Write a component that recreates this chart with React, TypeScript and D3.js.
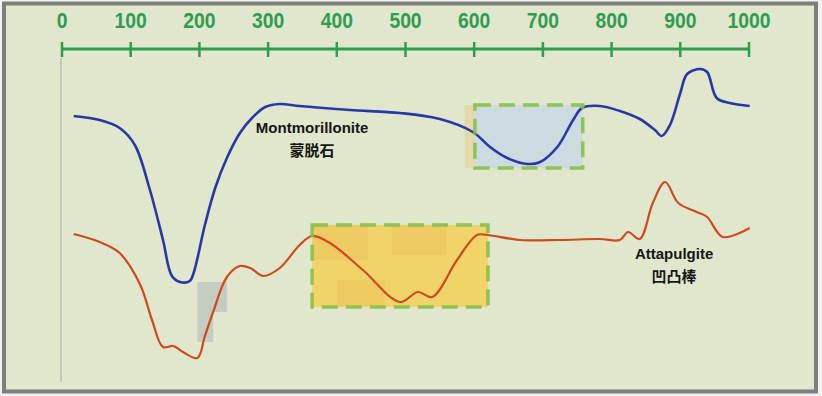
import React, { useEffect, useRef } from "react";
import * as d3 from "d3";

// wavelength axis, 0..1000
const xTicks = [0, 100, 200, 300, 400, 500, 600, 700, 800, 900, 1000];

// Montmorillonite curve [wavelength, signal]
const montmorillonite: [number, number][] = [
  [17, 264], [55, 260], [84, 252], [106, 235], [128, 190], [147, 140],
  [160, 104], [172, 98], [186, 99], [192, 108], [208, 155], [223, 192],
  [240, 222], [259, 247], [278, 263], [296, 273], [317, 276], [346, 274],
  [419, 270], [492, 267], [550, 261], [598, 248], [623, 233], [648, 222],
  [678, 216], [696, 218], [721, 233], [744, 260], [757, 272], [783, 274],
  [812, 269], [841, 261], [863, 250], [873, 244], [885, 255], [900, 287],
  [910, 306], [929, 311], [939, 308], [953, 282], [972, 277], [1001, 274],
];

// Attapulgite curve [wavelength, signal]
const attapulgite: [number, number][] = [
  [17, 146], [55, 138], [84, 127], [114, 95], [131, 60], [147, 33],
  [162, 34], [176, 28], [197, 22], [208, 44], [220, 68], [240, 103],
  [259, 114], [274, 112], [293, 104], [317, 112], [346, 135], [364, 144],
  [390, 137], [438, 110], [492, 78], [518, 88], [539, 83], [575, 120],
  [604, 145], [619, 145], [667, 140], [725, 140], [783, 141], [812, 140],
  [824, 148], [841, 141], [860, 177], [878, 198], [897, 177], [924, 168],
  [939, 163], [962, 143], [1001, 152],
];

// highlighted regions [x0, x1, y0, y1]
const blueBox = [601, 758, 212, 275];
const orangeBox = [364, 620, 73, 155];
const grayPatches = [
  [197, 240, 68, 98],
  [197, 220, 38, 68],
];
const orangePatches = [
  [364, 445, 120, 155],
  [480, 560, 125, 155],
  [400, 470, 73, 100],
  [586, 601, 212, 275],
];
const labels = [
  { x: 364, y: 247, lines: ["Montmorillonite", "蒙脱石"] },
  { x: 891, y: 121, lines: ["Attapulgite", "凹凸棒"] },
];

const W = 822, H = 396;

export default function App() {
  const ref = useRef<SVGSVGElement>(null);

  useEffect(() => {
    const svg = d3.select(ref.current);
    svg.selectAll("*").remove();

    const x = d3.scaleLinear().domain([0, 1000]).range([62, 749]);
    const y = d3.scaleLinear().domain([0, 320]).range([380, 60]);

    // frame
    svg.append("rect").attr("x", 0).attr("y", 0).attr("width", W).attr("height", H).attr("fill", "#f2f3ee");
    svg.append("rect")
      .attr("x", 4).attr("y", 3.5).attr("width", 812).attr("height", 388)
      .attr("fill", "#e0e7cd").attr("stroke", "#7b807a").attr("stroke-width", 4);

    // y axis line
    svg.append("line")
      .attr("x1", 61).attr("x2", 61).attr("y1", 58).attr("y2", 382)
      .attr("stroke", "#c4c8bb").attr("stroke-width", 2);

    // x axis on top
    const axisColor = "#2f9c50";
    svg.append("line")
      .attr("x1", x(0)).attr("x2", x(1000)).attr("y1", 49).attr("y2", 49)
      .attr("stroke", axisColor).attr("stroke-width", 3);
    const ticks = svg.append("g").selectAll("g").data(xTicks).enter().append("g")
      .attr("transform", d => "translate(" + x(d) + ",0)");
    ticks.append("line").attr("y1", 42).attr("y2", 57)
      .attr("stroke", axisColor).attr("stroke-width", 2.5);
    ticks.append("text")
      .attr("y", 27).attr("text-anchor", "middle")
      .attr("fill", axisColor)
      .attr("transform", "scale(0.92,1.05)")
      .style("font-family", "'Liberation Sans', Arial, sans-serif")
      .style("font-weight", "bold").style("font-size", "21px")
      .text(d => d);

    const rect = (g: any, b: number[]) =>
      g.append("rect")
        .attr("x", x(b[0])).attr("width", x(b[1]) - x(b[0]))
        .attr("y", y(b[3])).attr("height", y(b[2]) - y(b[3]));

    // highlighted regions
    rect(svg, orangeBox).attr("fill", "#f2d05e").attr("opacity", 0.9);
    orangePatches.forEach(p => rect(svg, p).attr("fill", "#eab654").attr("opacity", 0.3));
    rect(svg, blueBox).attr("fill", "#cbdbe0");
    grayPatches.forEach(p => rect(svg, p).attr("fill", "#b9c2bc").attr("opacity", 0.7));

    const line = d3.line<[number, number]>()
      .x(d => x(d[0])).y(d => y(d[1]))
      .curve(d3.curveCatmullRom.alpha(0.5));

    svg.append("path").datum(montmorillonite).attr("d", line)
      .attr("fill", "none").attr("stroke", "#2a37a6").attr("stroke-width", 2.6)
      .attr("stroke-linejoin", "round");
    svg.append("path").datum(attapulgite).attr("d", line)
      .attr("fill", "none").attr("stroke", "#cf4a1e").attr("stroke-width", 2.2)
      .attr("stroke-linejoin", "round");

    // dashed borders over the curves
    [blueBox, orangeBox].forEach(b => rect(svg, b)
      .attr("fill", "none").attr("stroke", "#86bf4e").attr("stroke-width", 3.5)
      .attr("stroke-dasharray", "16,8").attr("opacity", 0.9));

    // curve labels
    labels.forEach(l => {
      const t = svg.append("text")
        .attr("x", x(l.x)).attr("y", y(l.y)).attr("text-anchor", "middle")
        .attr("fill", "#161616")
        .style("font-weight", "bold");
      l.lines.forEach((s, i) => {
        t.append("tspan").attr("x", x(l.x)).attr("dy", i === 0 ? 0 : 23)
          .style("font-family", i === 0 ? "'Liberation Sans', Arial, sans-serif" : "'Noto Sans CJK SC', sans-serif")
          .style("font-size", i === 0 ? "15px" : "15px")
          .text(s);
      });
    });
  }, []);

  return (
    <div style={{ position: "fixed", left: 0, top: 0 }}>
      <svg ref={ref} width={W} height={H} style={{ display: "block" }} />
    </div>
  );
}
